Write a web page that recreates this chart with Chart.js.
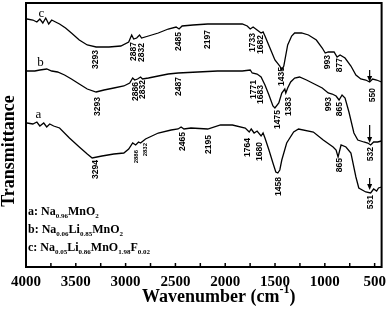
<!DOCTYPE html>
<html>
<head>
<meta charset="utf-8">
<script src="https://cdn.jsdelivr.net/npm/chart.js@4.4.1/dist/chart.umd.min.js"></script>
<style>
  html, body { margin: 0; padding: 0; background: #fff; }
  #wrap { width: 392px; height: 316px; }
</style>
</head>
<body>
<div id="wrap"><canvas id="ftirChart"></canvas></div>
<script>
// x axis
const xTicks = [4000, 3500, 3000, 2500, 2000, 1500, 1000, 500];
const xMinorTicks = [3750, 3250, 2750, 2250, 1750, 1250, 750];

// curve c: Na0.05Li0.86MnO1.98F0.02
const waveC = [3990, 3931, 3891, 3861, 3831, 3802, 3772, 3742, 3703, 3663, 3603, 3544, 3465, 3385, 3296, 3167, 3048, 2969, 2939, 2919, 2889, 2860, 2840, 2771, 2672, 2572, 2493, 2463, 2433, 2324, 2176, 1977, 1829, 1779, 1749, 1720, 1680, 1640, 1620, 1601, 1551, 1501, 1452, 1432, 1412, 1373, 1333, 1303, 1234, 1164, 1085, 1026, 996, 966, 907, 877, 847, 797, 738, 688, 639, 589, 550, 520, 480, 431];
const transC = [248, 247, 245, 248, 244, 249, 243, 247, 245, 243, 239, 234, 227, 222, 220, 220, 221, 225, 232, 228, 229, 232, 229, 231, 234, 238, 240, 238, 241, 242, 243, 243, 243, 241, 238, 240, 237, 234, 235, 231, 219, 207, 201, 197, 201, 222, 231, 234, 234, 232, 227, 219, 214, 215, 215, 210, 212, 209, 201, 192, 188, 187, 185, 188, 187, 185];

// curve b: Na0.06Li0.85MnO2
const waveB = [3990, 3911, 3861, 3792, 3742, 3683, 3613, 3544, 3465, 3385, 3296, 3217, 3118, 3018, 2959, 2929, 2909, 2880, 2850, 2830, 2771, 2672, 2572, 2473, 2275, 2077, 1829, 1749, 1729, 1680, 1640, 1601, 1561, 1521, 1501, 1462, 1432, 1402, 1392, 1373, 1343, 1303, 1254, 1184, 1105, 1026, 966, 926, 887, 857, 827, 797, 758, 708, 669, 609, 569, 540, 510, 470, 431];
const transB = [196, 196, 197, 198, 196, 195, 192, 188, 183, 178, 175, 177, 179, 181, 184, 189, 187, 188, 190, 188, 189, 191, 193, 194, 195, 196, 196, 197, 194, 193, 190, 182, 172, 161, 159, 164, 174, 178, 174, 179, 185, 189, 190, 187, 183, 179, 174, 173, 171, 167, 172, 169, 155, 134, 127, 125, 124, 122, 125, 125, 126];

// curve a: Na0.96MnO2
const waveA = [3990, 3931, 3891, 3861, 3822, 3792, 3762, 3722, 3663, 3564, 3465, 3385, 3336, 3237, 3118, 3018, 2969, 2929, 2899, 2870, 2850, 2800, 2672, 2543, 2473, 2443, 2414, 2344, 2176, 2047, 1928, 1799, 1759, 1739, 1710, 1680, 1640, 1620, 1601, 1561, 1521, 1492, 1472, 1452, 1432, 1383, 1313, 1264, 1115, 1016, 917, 887, 867, 837, 788, 738, 688, 659, 589, 540, 510, 480, 461, 431];
const transA = [144, 143, 145, 141, 144, 140, 143, 141, 139, 129, 120, 113, 109, 111, 113, 114, 118, 124, 122, 125, 124, 128, 134, 137, 138, 140, 138, 139, 138, 142, 142, 139, 135, 138, 134, 136, 131, 134, 129, 117, 104, 95, 94, 97, 107, 124, 135, 138, 135, 127, 120, 117, 110, 122, 120, 114, 90, 79, 75, 74, 78, 76, 79, 80];

// peak labels: [text, wavenumber, top of text (transmittance units)]
const peaksC = [["3293", 3296, 217], ["2887", 2919, 225], ["2832", 2840, 224], ["2485", 2463, 235], ["2197", 2176, 237], ["1733", 1729, 234], ["1682", 1640, 232], ["1435", 1432, 200], ["993", 976, 212], ["877", 847, 209], ["550", 520, 179]];
const peaksB = [["3293", 3276, 170], ["2886", 2899, 185], ["2832", 2830, 187], ["2487", 2463, 190], ["1771", 1710, 187], ["1683", 1640, 182], ["1475", 1472, 157], ["1383", 1363, 170], ["993", 966, 170], ["865", 847, 165], ["532", 540, 120]];
const peaksA = [["3294", 3296, 107], ["2465", 2428, 135], ["2195", 2171, 132], ["1764", 1774, 129], ["1680", 1655, 125], ["1458", 1462, 90], ["865", 847, 109], ["531", 535, 72]];
const peaksASmall = [["2886", 2894, 117], ["2832", 2805, 124]];

// arrows at the low-wavenumber band: [wavenumber, from, to]
const arrows = [[550, 197, 185], [550, 142, 124], [550, 89, 77]];

function toPoints(w, t) {
  return w.map((v, i) => ({ x: v, y: t[i] }));
}

function drawSubText(ctx, x, y, parts, bigFont, smallFont) {
  parts.forEach(([txt, sub]) => {
    ctx.font = sub ? smallFont : bigFont;
    ctx.fillText(txt, x, sub ? y + 3 : y);
    x += ctx.measureText(txt).width;
  });
}

const ftirDecor = {
  id: "ftirDecor",
  afterDraw(chart) {
    const { ctx, chartArea: area } = chart;
    const xs = chart.scales.x;
    const ys = chart.scales.y;
    ctx.save();
    ctx.fillStyle = "#000";
    ctx.strokeStyle = "#000";

    // frame
    ctx.lineWidth = 2;
    ctx.strokeRect(area.left, area.top, area.right - area.left, area.bottom - area.top);

    // inward ticks on the bottom axis
    ctx.lineWidth = 1.5;
    xTicks.concat(xMinorTicks).forEach((v) => {
      const px = xs.getPixelForValue(v);
      ctx.beginPath();
      ctx.moveTo(px, area.bottom);
      ctx.lineTo(px, area.bottom - 4);
      ctx.stroke();
    });

    // rotated peak labels
    const drawPeaks = (list, font) => {
      ctx.font = font;
      ctx.textAlign = "right";
      ctx.textBaseline = "middle";
      list.forEach(([txt, w, top]) => {
        ctx.save();
        ctx.translate(xs.getPixelForValue(w), ys.getPixelForValue(top));
        ctx.rotate(-Math.PI / 2);
        ctx.fillText(txt, 0, 0);
        ctx.restore();
      });
    };
    const peakFont = "bold 8.5px 'Liberation Sans', Arial, sans-serif";
    drawPeaks(peaksC, peakFont);
    drawPeaks(peaksB, peakFont);
    drawPeaks(peaksA, peakFont);
    drawPeaks(peaksASmall, "bold 6px 'Liberation Sans', Arial, sans-serif");

    // arrows
    ctx.lineWidth = 1.2;
    arrows.forEach(([w, from, to]) => {
      const px = xs.getPixelForValue(w);
      const y1 = ys.getPixelForValue(from);
      const y2 = ys.getPixelForValue(to);
      ctx.beginPath();
      ctx.moveTo(px, y1);
      ctx.lineTo(px, y2 - 4);
      ctx.stroke();
      ctx.beginPath();
      ctx.moveTo(px - 2.5, y2 - 6);
      ctx.lineTo(px + 2.5, y2 - 6);
      ctx.lineTo(px, y2);
      ctx.closePath();
      ctx.fill();
    });

    // curve letters
    ctx.font = "13px 'Liberation Serif', 'Times New Roman', serif";
    ctx.textAlign = "center";
    ctx.textBaseline = "middle";
    ctx.fillText("c", 41.5, 14);
    ctx.fillText("b", 40.5, 63);
    ctx.fillText("a", 38.5, 115);

    // composition legend
    const big = "bold 12px 'Liberation Serif', 'Times New Roman', serif";
    const small = "bold 7px 'Liberation Serif', 'Times New Roman', serif";
    ctx.textAlign = "left";
    ctx.textBaseline = "alphabetic";
    drawSubText(ctx, 28, 215, [["a: Na", false], ["0.96", true], ["MnO", false], ["2", true]], big, small);
    drawSubText(ctx, 28, 233, [["b: Na", false], ["0.06", true], ["Li", false], ["0.85", true], ["MnO", false], ["2", true]], big, small);
    drawSubText(ctx, 28, 251, [["c: Na", false], ["0.05", true], ["Li", false], ["0.86", true], ["MnO", false], ["1.98", true], ["F", false], ["0.02", true]], big, small);

    // axis titles
    ctx.font = "bold 18px 'Liberation Serif', 'Times New Roman', serif";
    ctx.save();
    ctx.translate(14, 151);
    ctx.rotate(-Math.PI / 2);
    ctx.textAlign = "center";
    ctx.textBaseline = "alphabetic";
    ctx.fillText("Transmittance", 0, 0);
    ctx.restore();

    ctx.textAlign = "left";
    let tx = 142;
    const ty = 302;
    ctx.fillText("Wavenumber (cm", tx, ty);
    tx += ctx.measureText("Wavenumber (cm").width;
    ctx.font = "bold 12px 'Liberation Serif', 'Times New Roman', serif";
    ctx.fillText("-1", tx, ty - 9);
    tx += ctx.measureText("-1").width;
    ctx.font = "bold 18px 'Liberation Serif', 'Times New Roman', serif";
    ctx.fillText(")", tx, ty);

    ctx.restore();
  },
};

const lineStyle = {
  borderColor: "#000",
  borderWidth: 1.3,
  pointRadius: 0,
  fill: false,
  tension: 0,
};

const ftirCtx = document.getElementById("ftirChart").getContext("2d");
const ftirChart = new Chart(ftirCtx, {
  type: "line",
  data: {
    datasets: [
      { label: "a", data: toPoints(waveA, transA), ...lineStyle },
      { label: "b", data: toPoints(waveB, transB), ...lineStyle },
      { label: "c", data: toPoints(waveC, transC), ...lineStyle },
    ],
  },
  options: {
    responsive: true,
    maintainAspectRatio: false,
    animation: false,
    layout: {
      padding: { left: 26, right: 6, top: 3, bottom: 0 },
    },
    scales: {
      x: {
        type: "linear",
        reverse: true,
        min: 430,
        max: 4000,
        grid: { display: false, drawTicks: false },
        border: { display: false },
        afterBuildTicks: (scale) => {
          scale.ticks = xTicks.map((v) => ({ value: v }));
        },
        afterFit: (scale) => {
          scale.height = 49;
        },
        ticks: {
          autoSkip: false,
          maxRotation: 0,
          padding: 6,
          color: "#000",
          callback: (value) => String(value),
          font: {
            family: "'Liberation Serif', 'Times New Roman', serif",
            size: 15,
            weight: "bold",
          },
        },
      },
      y: {
        display: false,
        min: 0,
        max: 264,
      },
    },
    plugins: {
      legend: { display: false },
      tooltip: { enabled: false },
    },
  },
  plugins: [ftirDecor],
});
</script>
</body>
</html>
